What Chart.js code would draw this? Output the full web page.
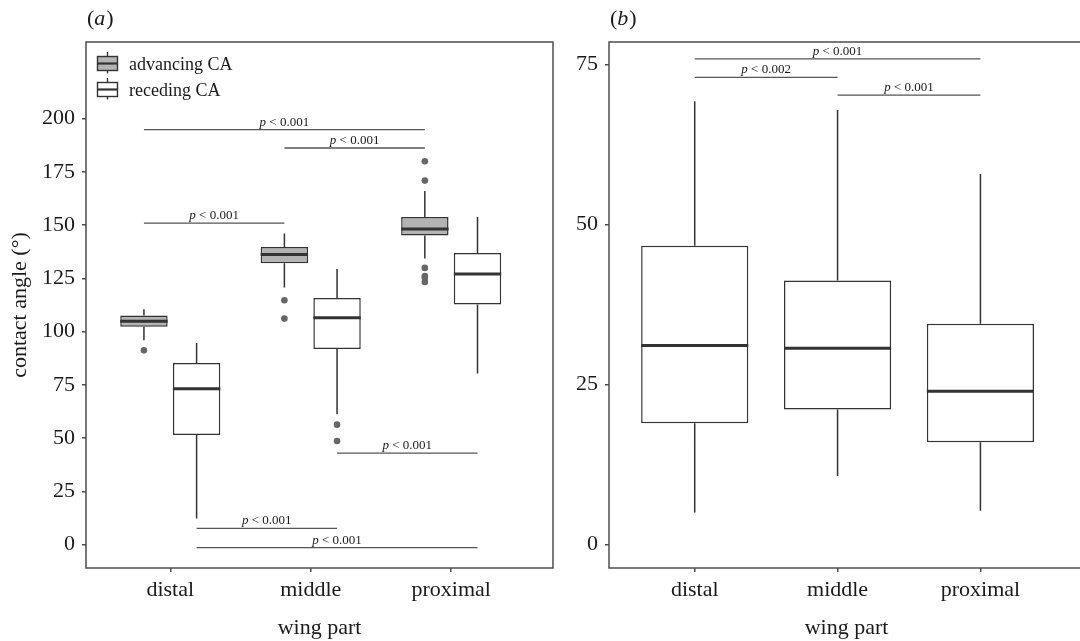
<!DOCTYPE html>
<html>
<head>
<meta charset="utf-8">
<script src="https://cdn.jsdelivr.net/npm/chart.js@4.4.1/dist/chart.umd.min.js"></script>
<style>
  html, body { margin: 0; padding: 0; background: #fff; overflow: hidden; }
  #wrap { position: relative; width: 1080px; height: 641px; overflow: hidden; }
  canvas { position: absolute; top: 0; }
  #chartA { left: 0; }
  #chartB { left: 560px; }
</style>
</head>
<body>
<div id="wrap">
  <canvas id="chartA" width="560" height="641"></canvas>
  <canvas id="chartB" width="540" height="641"></canvas>
</div>
<script>
// categories
var parts = ['distal', 'middle', 'proximal'];

// panel (a) - advancing CA: whisker low, q1, median, q3, whisker high
var advLow = [95.9, 120.7, 134.3];
var advQ1 = [102.3, 132.1, 145.1];
var advMed = [104.8, 136.2, 148.2];
var advQ3 = [107.5, 139.7, 153.8];
var advHigh = [110.5, 146.0, 166.0];
var advOut = [[91.2], [114.7, 106.1], [180.0, 170.9, 129.9, 126.1, 125.2, 123.3]];

// panel (a) - receding CA
var recLow = [12.2, 61.2, 80.3];
var recQ1 = [51.5, 91.8, 112.7];
var recMed = [73.2, 106.5, 127.0];
var recQ3 = [85.3, 115.8, 136.9];
var recHigh = [94.6, 129.4, 153.8];
var recOut = [[], [56.3, 48.6], []];

// panel (a) significance bars (1 = distal, 2 = middle, 3 = proximal)
var sigAFrom = [1, 2, 1, 2, 1, 1];
var sigATo = [3, 3, 2, 3, 2, 3];
var sigASeries = ['adv', 'adv', 'adv', 'rec', 'rec', 'rec'];
var sigAY = [194.8, 186.2, 150.9, 42.9, 7.6, -1.4];
var sigALabel = ['< 0.001', '< 0.001', '< 0.001', '< 0.001', '< 0.001', '< 0.001'];

// panel (b)
var bLow = [5.0, 10.7, 5.3];
var bQ1 = [18.95, 21.1, 16.0];
var bMed = [31.1, 30.7, 23.95];
var bQ3 = [46.7, 41.25, 34.5];
var bHigh = [69.3, 67.9, 57.9];

var sigBFrom = [1, 1, 2];
var sigBTo = [3, 2, 3];
var sigBY = [75.9, 73.0, 70.25];
var sigBLabel = ['< 0.001', '< 0.002', '< 0.001'];

// tick labels
var yTicksA = [0, 25, 50, 75, 100, 125, 150, 175, 200];
var yTicksB = [0, 25, 50, 75];

var serif = "'Liberation Serif', 'Times New Roman', serif";
var ink = '#1a1a1a';
var edge = '#4d4d4d';
var dodge = 0.1875;

function seg(list, x1, y1, x2, y2) {
  list.push({x: x1, y: y1}, {x: x2, y: y2}, {x: x2, y: null});
}

function boxParts(off, hw, low, q1, med, q3, high) {
  var wh = [], md = [];
  for (var i = 0; i < med.length; i++) {
    var c = i + 1 + off;
    seg(wh, c, low[i], c, q1[i]);
    seg(wh, c, q3[i], c, high[i]);
    seg(md, c - hw, med[i], c + hw, med[i]);
  }
  return {whiskers: wh, medians: md};
}

function boxBars(q1, q3) {
  return q1.map(function (v, i) { return {x: i + 1, y: [v, q3[i]]}; });
}

function outPoints(off, outs) {
  var pts = [];
  outs.forEach(function (list, i) {
    list.forEach(function (v) { pts.push({x: i + 1 + off, y: v}); });
  });
  return pts;
}

function lineSet(data, width, color) {
  return {type: 'line', data: data, borderColor: color, borderWidth: width,
    pointRadius: 0, spanGaps: false, fill: false, order: 0};
}

function xScale() {
  return {
    type: 'linear', min: 0.4, max: 3.725, offset: false,
    afterBuildTicks: function (s) { s.ticks = parts.map(function (p, i) { return {value: i + 1}; }); },
    afterFit: function (s) { s.height = 73; },
    ticks: {callback: function (v, i) { return parts[i]; }, font: {family: serif, size: 22},
      color: ink, padding: 5, autoSkip: false, maxRotation: 0},
    grid: {offset: false, drawOnChartArea: false, drawTicks: true, tickLength: 4, color: edge, lineWidth: 1.5},
    border: {display: false},
    title: {display: true, text: 'wing part', font: {family: serif, size: 22}, color: ink,
      padding: {top: 0, bottom: 0}}
  };
}

function yScale(min, max, ticks, width, titleText) {
  return {
    min: min, max: max,
    afterBuildTicks: function (s) { s.ticks = ticks.map(function (v) { return {value: v}; }); },
    afterFit: function (s) { s.width = width; },
    ticks: {font: {family: serif, size: 22}, color: ink, padding: 7},
    grid: {offset: false, drawOnChartArea: false, drawTicks: true, tickLength: 4, color: edge, lineWidth: 1.5},
    border: {display: false},
    title: {display: !!titleText, text: titleText || '', font: {family: serif, size: 22}, color: ink,
      padding: {top: 7, bottom: 0}}
  };
}

function drawP(ctx, cx, y, rest, size) {
  ctx.font = 'italic ' + size + 'px ' + serif;
  var wp = ctx.measureText('p').width;
  ctx.font = size + 'px ' + serif;
  var wr = ctx.measureText(' ' + rest).width;
  var x0 = cx - (wp + wr) / 2;
  ctx.textAlign = 'left';
  ctx.textBaseline = 'alphabetic';
  ctx.fillStyle = ink;
  ctx.font = 'italic ' + size + 'px ' + serif;
  ctx.fillText('p', x0, y);
  ctx.font = size + 'px ' + serif;
  ctx.fillText(' ' + rest, x0 + wp, y);
}

function drawLetter(ctx, x, y, letter) {
  ctx.textAlign = 'left';
  ctx.textBaseline = 'alphabetic';
  ctx.fillStyle = ink;
  ctx.font = '22px ' + serif;
  ctx.fillText('(', x, y);
  x += ctx.measureText('(').width;
  ctx.font = 'italic 22px ' + serif;
  ctx.fillText(letter, x, y);
  x += ctx.measureText(letter).width + 1;
  ctx.font = '22px ' + serif;
  ctx.fillText(')', x, y);
}

function legendGlyph(ctx, cx, cy, fill) {
  ctx.strokeStyle = '#333';
  ctx.lineWidth = 1.4;
  ctx.beginPath();
  ctx.moveTo(cx, cy - 11.5);
  ctx.lineTo(cx, cy + 10);
  ctx.stroke();
  ctx.fillStyle = fill;
  ctx.fillRect(cx - 10, cy - 7, 20, 14);
  ctx.strokeRect(cx - 10, cy - 7, 20, 14);
  ctx.lineWidth = 2.2;
  ctx.beginPath();
  ctx.moveTo(cx - 10, cy);
  ctx.lineTo(cx + 10, cy);
  ctx.stroke();
}

function panelPlugin(letter, sigFrom, sigTo, sigOff, sigY, sigLabel, withLegend) {
  return {
    id: 'panel' + letter,
    afterDraw: function (chart) {
      var ctx = chart.ctx, a = chart.chartArea;
      var xs = chart.scales.x, ys = chart.scales.y;
      ctx.save();
      ctx.strokeStyle = edge;
      ctx.lineWidth = 1.5;
      ctx.strokeRect(a.left, a.top, a.right - a.left, a.bottom - a.top);
      drawLetter(ctx, a.left + 1, 25, letter);
      for (var i = 0; i < sigY.length; i++) {
        var x1 = xs.getPixelForValue(sigFrom[i] + sigOff[i]);
        var x2 = xs.getPixelForValue(sigTo[i] + sigOff[i]);
        var y = ys.getPixelForValue(sigY[i]);
        drawP(ctx, (x1 + x2) / 2, y - 4, sigLabel[i], 13);
      }
      if (withLegend) {
        legendGlyph(ctx, a.left + 21.5, a.top + 21.5, '#b3b3b3');
        legendGlyph(ctx, a.left + 21.5, a.top + 47.5, '#ffffff');
        ctx.fillStyle = ink;
        ctx.font = '18px ' + serif;
        ctx.textAlign = 'left';
        ctx.textBaseline = 'alphabetic';
        ctx.fillText('advancing CA', a.left + 43, a.top + 27.5);
        ctx.fillText('receding CA', a.left + 43, a.top + 53.5);
      }
      ctx.restore();
    }
  };
}

// ---------- panel (a) ----------
var advParts = boxParts(-dodge, 0.16875, advLow, advQ1, advMed, advQ3, advHigh);
var recParts = boxParts(dodge, 0.16875, recLow, recQ1, recMed, recQ3, recHigh);
var sigAOff = sigASeries.map(function (s) { return s === 'adv' ? -dodge : dodge; });
var sigALines = [];
sigAY.forEach(function (y, i) { seg(sigALines, sigAFrom[i] + sigAOff[i], y, sigATo[i] + sigAOff[i], y); });

new Chart(document.getElementById('chartA'), {
  type: 'bar',
  data: {
    datasets: [
      lineSet(advParts.medians, 3, '#333'),
      lineSet(recParts.medians, 3, '#333'),
      lineSet(advParts.whiskers, 1.5, '#333'),
      lineSet(recParts.whiskers, 1.5, '#333'),
      lineSet(sigALines, 1.3, '#555'),
      {type: 'line', data: outPoints(-dodge, advOut), showLine: false, pointRadius: 3.3,
        pointBackgroundColor: '#666', pointBorderWidth: 0, order: 0},
      {type: 'line', data: outPoints(dodge, recOut), showLine: false, pointRadius: 3.3,
        pointBackgroundColor: '#666', pointBorderWidth: 0, order: 0},
      {label: 'advancing CA', data: boxBars(advQ1, advQ3), backgroundColor: '#b3b3b3',
        borderColor: '#333', borderWidth: 1.5, borderSkipped: false,
        barPercentage: 0.9, categoryPercentage: 0.75, order: 1},
      {label: 'receding CA', data: boxBars(recQ1, recQ3), backgroundColor: '#ffffff',
        borderColor: '#333', borderWidth: 1.5, borderSkipped: false,
        barPercentage: 0.9, categoryPercentage: 0.75, order: 1}
    ]
  },
  options: {
    responsive: false,
    animation: false,
    events: [],
    layout: {padding: {top: 42, right: 7, bottom: 0, left: 0}},
    plugins: {legend: {display: false}, tooltip: {enabled: false}},
    scales: {
      x: xScale(),
      y: yScale(-10.99, 235.96, yTicksA, 86, 'contact angle (\u00b0)')
    }
  },
  plugins: [panelPlugin('a', sigAFrom, sigATo, sigAOff, sigAY, sigALabel, true)]
});

// ---------- panel (b) ----------
var bParts = boxParts(0, 0.375, bLow, bQ1, bMed, bQ3, bHigh);
var sigBOff = sigBY.map(function () { return 0; });
var sigBLines = [];
sigBY.forEach(function (y, i) { seg(sigBLines, sigBFrom[i], y, sigBTo[i], y); });

new Chart(document.getElementById('chartB'), {
  type: 'bar',
  data: {
    datasets: [
      lineSet(bParts.medians, 3, '#333'),
      lineSet(bParts.whiskers, 1.5, '#333'),
      lineSet(sigBLines, 1.3, '#555'),
      {label: 'contact angle', data: boxBars(bQ1, bQ3), backgroundColor: '#ffffff',
        borderColor: '#333', borderWidth: 1.5, borderSkipped: false,
        barPercentage: 1.0, categoryPercentage: 0.75, order: 1}
    ]
  },
  options: {
    responsive: false,
    animation: false,
    events: [],
    layout: {padding: {top: 42, right: 16, bottom: 0, left: 0}},
    plugins: {legend: {display: false}, tooltip: {enabled: false}},
    scales: {
      x: xScale(),
      y: yScale(-3.66, 78.54, yTicksB, 49, '')
    }
  },
  plugins: [panelPlugin('b', sigBFrom, sigBTo, sigBOff, sigBY, sigBLabel, false)]
});
</script>
</body>
</html>
